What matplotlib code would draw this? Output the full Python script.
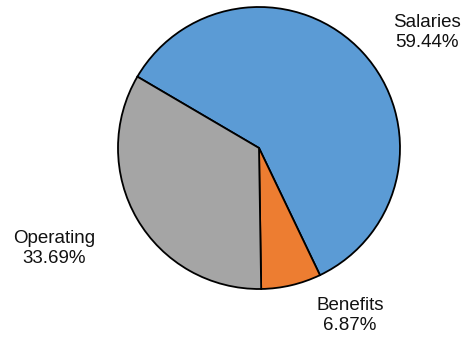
import matplotlib
matplotlib.use('Agg')
import matplotlib.pyplot as plt

plt.rcParams['font.family'] = ['Liberation Sans', 'DejaVu Sans']

# 预算构成
categories = ['Salaries', 'Benefits', 'Operating']
shares = [59.44, 6.87, 33.69]
colors = ['#5B9BD5', '#ED7D31', '#A5A5A5']

# 标签位置（以饼图半径为单位）
label_pos = {
    'Salaries': (1.19, 0.82),
    'Benefits': (0.645, -1.19),
    'Operating': (-1.45, -0.71),
}

fig = plt.figure(figsize=(4.64, 3.40), dpi=100)
ax = fig.add_axes([0, 0, 1, 1])

ax.pie(shares, colors=colors, startangle=149.6, counterclock=False,
       radius=1.0, wedgeprops={'edgecolor': 'black', 'linewidth': 1.3})

for name, val in zip(categories, shares):
    x, y = label_pos[name]
    ax.text(x, y, f'{name}\n{val:.2f}%', ha='center', va='center',
            fontsize=13.5, linespacing=1.22, color='#111111')

# 像素对齐：圆心 (259, 148)，半径 141 px
r_px = 141.0
ax.set_xlim(-259 / r_px, (464 - 259) / r_px)
ax.set_ylim(-(340 - 148) / r_px, 148 / r_px)
ax.set_aspect('auto')
ax.axis('off')

fig.savefig('out.png', dpi=100)
